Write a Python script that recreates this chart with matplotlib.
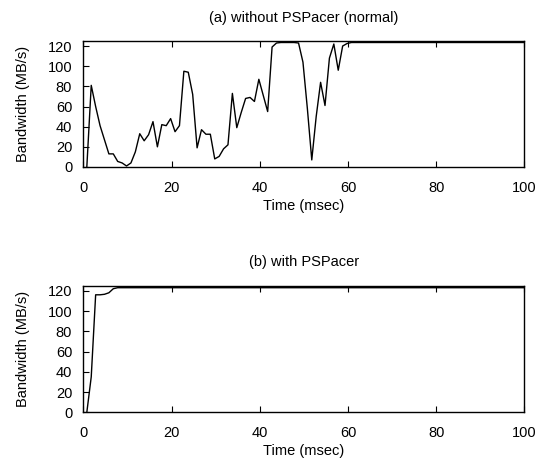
import matplotlib
matplotlib.use("Agg")
import matplotlib.pyplot as plt

plt.rcParams['font.family'] = ['Liberation Sans', 'DejaVu Sans']

# (a) without PSPacer -- bandwidth samples
time_a = [0.8, 1.8, 2.8, 3.8, 4.8, 5.8, 6.8, 7.8, 8.8, 9.8,
          10.8, 11.8, 12.8, 13.8, 14.8, 15.8, 16.8, 17.8, 18.8, 19.8,
          20.8, 21.8, 22.8, 23.8, 24.8, 25.8, 26.8, 27.8, 28.8, 29.8,
          30.8, 31.8, 32.8, 33.8, 34.8, 35.8, 36.8, 37.8, 38.8, 39.8,
          40.8, 41.8, 42.8, 43.8, 44.8, 45.8, 46.8, 47.8, 48.8, 49.8,
          50.8, 51.8, 52.8, 53.8, 54.8, 55.8, 56.8, 57.8, 58.8, 59.8,
          60.8, 100]
bw_a = [0, 81, 60, 41, 27, 13, 13, 5.5, 4, 1,
        4, 15, 33, 26, 32, 45, 20, 42, 41, 48,
        35, 41, 95, 94, 72, 19, 37, 32.5, 32.5, 8,
        10.5, 18, 22, 73, 39, 54, 68, 69, 65, 87,
        71, 55, 119, 123, 123.5, 123.5, 123.5, 123.5, 123, 104,
        58, 7, 50, 84, 61, 108, 122, 96, 120, 122.5,
        123.5, 123.5]

# (b) with PSPacer
time_b = [0.8, 1.8, 2.8, 3.8, 4.8, 5.8, 6.8, 7.8, 100]
bw_b = [0, 35, 116, 116, 116.5, 118, 122, 123, 123]

x_ticks = [0, 20, 40, 60, 80, 100]
y_ticks = [0, 20, 40, 60, 80, 100, 120]

fig = plt.figure(figsize=(5.43, 4.59), dpi=100)
ax1 = fig.add_axes([0.1534, 0.6362, 0.8123, 0.2745])
ax2 = fig.add_axes([0.1534, 0.1017, 0.8123, 0.2759])

panels = [(ax1, time_a, bw_a, '(a) without PSPacer (normal)'),
          (ax2, time_b, bw_b, '(b) with PSPacer')]

for ax, t, bw, title in panels:
    ax.plot(t, bw, color='black', lw=1.0)
    ax.set_xlim(0, 100)
    ax.set_ylim(0, 125)
    ax.set_xticks(x_ticks)
    ax.set_yticks(y_ticks)
    ax.tick_params(direction='in', length=4, width=0.8, labelsize=10.5,
                   top=True, right=False)
    ax.tick_params(axis='x', pad=10)
    ax.tick_params(axis='y', pad=8)
    for sp in ax.spines.values():
        sp.set_linewidth(1.0)
    ax.set_xlabel('Time (msec)', fontsize=10.5, labelpad=3)
    ax.set_ylabel('Bandwidth (MB/s)', fontsize=10.5, labelpad=13)
    ax.set_title(title, fontsize=10.5, pad=14)

fig.savefig('out.png', dpi=100)
